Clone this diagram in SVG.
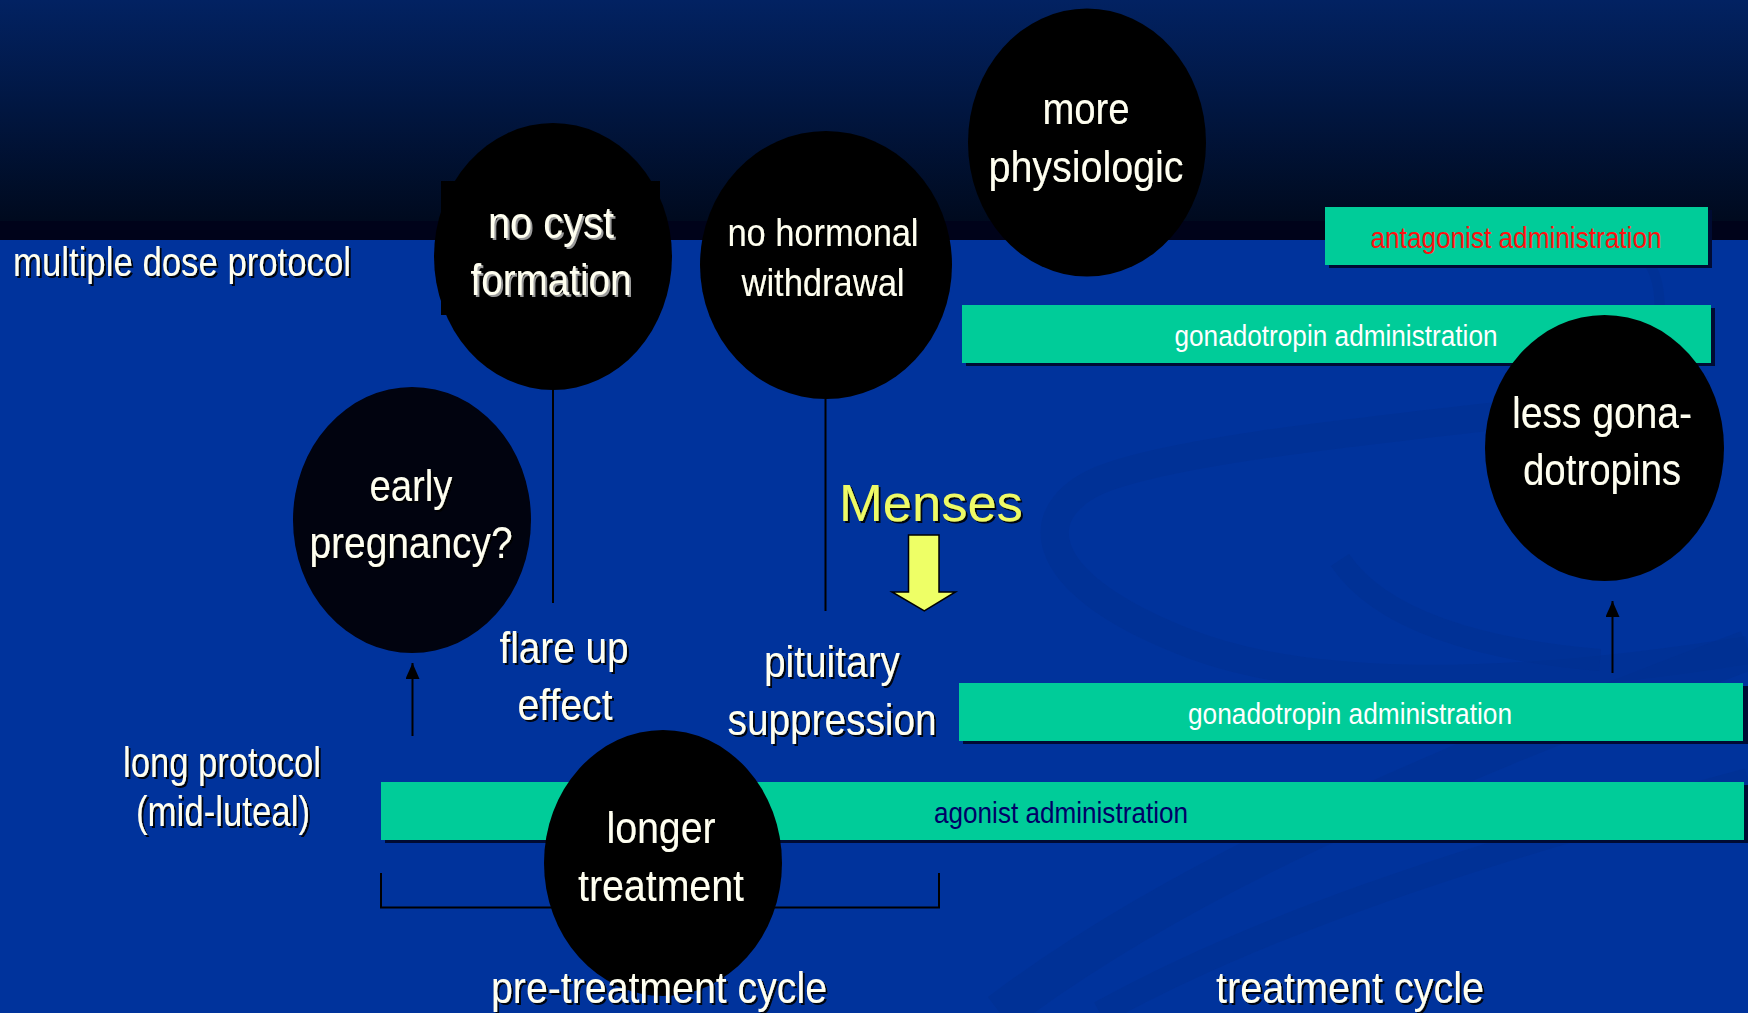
<svg xmlns="http://www.w3.org/2000/svg" width="1748" height="1013" viewBox="0 0 1748 1013">
<defs>
<linearGradient id="top" x1="0" y1="0" x2="0" y2="1">
<stop offset="0" stop-color="#022262"/>
<stop offset="1" stop-color="#000a1e"/>
</linearGradient>
<filter id="sh" x="-10%" y="-10%" width="130%" height="140%">
<feDropShadow dx="2" dy="2" stdDeviation="0.6" flood-color="#000" flood-opacity="0.9"/>
</filter>
<filter id="shg" x="-10%" y="-10%" width="130%" height="140%">
<feDropShadow dx="2" dy="2" stdDeviation="0.5" flood-color="#9a9a9a" flood-opacity="1"/>
</filter>
<marker id="ah" markerUnits="userSpaceOnUse" markerWidth="16" markerHeight="14" refX="16" refY="7" orient="auto" viewBox="0 0 16 14">
<path d="M0,0 L16,7 L0,14 Z" fill="#000"/>
</marker>
<style>
.t{font-family:"Liberation Sans Narrow","Liberation Sans",Arial,sans-serif;fill:#fffff0;filter:url(#sh)}
.c{text-anchor:middle}
.bar{fill:#00cc99}
.bsh{fill:#000b33}
.ov{fill:#000}
.ln{stroke:#000;stroke-width:2;fill:none}
.bt{font-family:"Liberation Sans Narrow","Liberation Sans",Arial,sans-serif;font-size:30px;text-anchor:middle}
</style>
</defs>

<g id="background">
<rect x="0" y="0" width="1748" height="1013" fill="#00339c"/>
<rect x="0" y="0" width="1748" height="222" fill="url(#top)"/>
<rect x="0" y="221" width="1748" height="19" fill="#00031a"/>
<g fill="none" stroke="#002f90" stroke-opacity="0.5">
<path d="M1650,265 C1665,290 1660,330 1650,360" stroke-width="10"/>
<path d="M1710,390 C1500,420 1200,440 1100,480 C1030,510 1030,580 1180,640 C1300,690 1500,690 1748,650" stroke-width="28"/>
<path d="M1340,560 C1380,620 1480,650 1600,660" stroke-width="22"/>
<path d="M1000,1013 C1150,900 1350,800 1748,650" stroke-width="40"/>
<path d="M1100,1013 C1250,930 1450,860 1748,780" stroke-width="24"/>
</g>
</g>

<g id="connectors">
<line class="ln" x1="553" y1="390" x2="553" y2="603"/>
<line class="ln" x1="825.5" y1="399" x2="825.5" y2="611"/>
<line class="ln" x1="412.5" y1="736" x2="412.5" y2="663" marker-end="url(#ah)"/>
<line class="ln" x1="1612.5" y1="673" x2="1612.5" y2="601" marker-end="url(#ah)"/>
<path class="ln" d="M381,873 V907.5 H939 V873"/>
</g>

<g id="bar-antagonist">
<rect class="bsh" x="1329" y="210" width="383" height="58"/>
<rect class="bar" x="1325" y="207" width="383" height="58"/>
<text class="bt" x="1516" y="248" fill="#ff1010" textLength="291" lengthAdjust="spacingAndGlyphs">antagonist administration</text>
</g>

<g id="bar-gonadotropin-top">
<rect class="bsh" x="966" y="308" width="749" height="58"/>
<rect class="bar" x="962" y="305" width="749" height="58"/>
<text class="bt" x="1336" y="346" fill="#ffffff" textLength="323" lengthAdjust="spacingAndGlyphs">gonadotropin administration</text>
</g>

<g id="bar-gonadotropin-bottom">
<rect class="bsh" x="963" y="686" width="785" height="58"/>
<rect class="bar" x="959" y="683" width="784" height="58"/>
<text class="bt" x="1350" y="724" fill="#ffffff" textLength="324" lengthAdjust="spacingAndGlyphs">gonadotropin administration</text>
</g>

<g id="bar-agonist">
<rect class="bsh" x="385" y="785" width="1363" height="58"/>
<rect class="bar" x="381" y="782" width="1363" height="58"/>
<text class="bt" x="1061" y="823" fill="#000066" textLength="254" lengthAdjust="spacingAndGlyphs">agonist administration</text>
</g>

<g id="label-multiple-dose">
<text class="t" x="13" y="276" font-size="40" textLength="338" lengthAdjust="spacingAndGlyphs">multiple dose protocol</text>
</g>

<g id="node-no-cyst">
<rect class="ov" x="441" y="181" width="219" height="134"/>
<ellipse class="ov" cx="553" cy="256.5" rx="119" ry="133.5"/>
<text class="t c" x="551" y="238" font-size="45" style="filter:url(#shg)" textLength="126" lengthAdjust="spacingAndGlyphs">no cyst</text>
<text class="t c" x="551" y="295" font-size="45" style="filter:url(#shg)" textLength="161" lengthAdjust="spacingAndGlyphs">formation</text>
</g>

<g id="node-no-hormonal">
<ellipse class="ov" cx="826" cy="265" rx="126" ry="134"/>
<text class="t c" x="823" y="246" font-size="39" textLength="191" lengthAdjust="spacingAndGlyphs">no hormonal</text>
<text class="t c" x="823" y="296" font-size="39" textLength="163" lengthAdjust="spacingAndGlyphs">withdrawal</text>
</g>

<g id="node-more-physiologic">
<ellipse class="ov" cx="1087" cy="142.5" rx="119" ry="134"/>
<text class="t c" x="1086" y="124" font-size="45" textLength="87" lengthAdjust="spacingAndGlyphs">more</text>
<text class="t c" x="1086" y="182" font-size="45" textLength="195" lengthAdjust="spacingAndGlyphs">physiologic</text>
</g>

<g id="node-early-pregnancy">
<ellipse cx="412" cy="520" rx="119" ry="133" fill="#01030f"/>
<text class="t c" x="411" y="501" font-size="45" textLength="83" lengthAdjust="spacingAndGlyphs">early</text>
<text class="t c" x="411" y="558" font-size="45" textLength="203" lengthAdjust="spacingAndGlyphs">pregnancy?</text>
</g>

<g id="node-less-gonadotropins">
<ellipse class="ov" cx="1604.5" cy="448" rx="119.5" ry="133"/>
<text class="t c" x="1602" y="428" font-size="45" textLength="180" lengthAdjust="spacingAndGlyphs">less gona-</text>
<text class="t c" x="1602" y="485" font-size="45" textLength="158" lengthAdjust="spacingAndGlyphs">dotropins</text>
</g>

<g id="node-longer-treatment">
<ellipse class="ov" cx="663" cy="863" rx="119" ry="133"/>
<text class="t c" x="661" y="843" font-size="45" textLength="109" lengthAdjust="spacingAndGlyphs">longer</text>
<text class="t c" x="661" y="901" font-size="45" textLength="166" lengthAdjust="spacingAndGlyphs">treatment</text>
</g>

<g id="label-flare">
<text class="t c" x="564" y="663" font-size="45" textLength="129" lengthAdjust="spacingAndGlyphs">flare up</text>
<text class="t c" x="565" y="720" font-size="45" textLength="95" lengthAdjust="spacingAndGlyphs">effect</text>
</g>

<g id="label-pituitary">
<text class="t c" x="832" y="677" font-size="45" textLength="136" lengthAdjust="spacingAndGlyphs">pituitary</text>
<text class="t c" x="832" y="735" font-size="45" textLength="209" lengthAdjust="spacingAndGlyphs">suppression</text>
</g>

<g id="label-menses">
<text x="839" y="521" font-family="'Liberation Sans',Arial,sans-serif" font-size="52.5" fill="#eefa66" filter="url(#sh)">Menses</text>
<path d="M908.5,535 H939 V592 H955.5 L924.3,611 L892,592 H908.5 Z" fill="#eeff66" stroke="#000" stroke-width="1.5" stroke-linejoin="miter"/>
</g>

<g id="label-long-protocol">
<text class="t c" x="222" y="777" font-size="42" textLength="198" lengthAdjust="spacingAndGlyphs">long protocol</text>
<text class="t c" x="223" y="826" font-size="42" textLength="174" lengthAdjust="spacingAndGlyphs">(mid-luteal)</text>
</g>

<g id="label-cycles">
<text class="t c" x="659" y="1003" font-size="45" textLength="336" lengthAdjust="spacingAndGlyphs">pre-treatment cycle</text>
<text class="t c" x="1350" y="1003" font-size="45" textLength="268" lengthAdjust="spacingAndGlyphs">treatment cycle</text>
</g>
</svg>
